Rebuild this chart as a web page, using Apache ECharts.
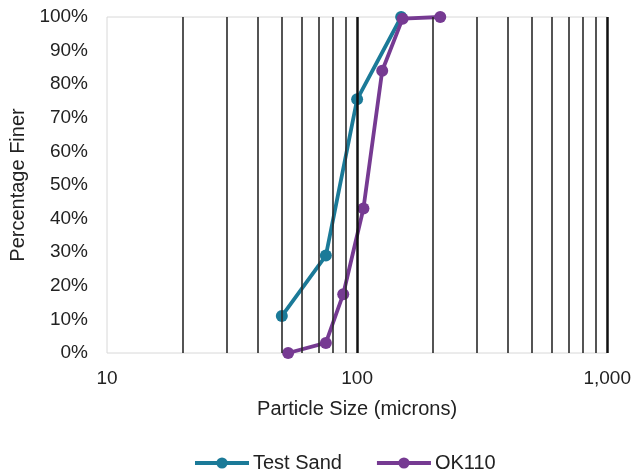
<!DOCTYPE html>
<html><head><meta charset="utf-8">
<script src="https://cdn.jsdelivr.net/npm/echarts@6/dist/echarts.min.js"></script>
<style>html,body{margin:0;padding:0;background:#fff}#c{width:634px;height:475px}</style>
</head><body><div id="c"></div>
<script>
// Data
const testSandSize = [50, 75, 100, 150];
const testSandFiner = [11, 29, 75.5, 100];
const ok110Size = [53, 75, 88, 106, 126, 152, 215];
const ok110Finer = [0, 3, 17.5, 43, 84, 99.5, 100];
const gridValues = [20, 30, 40, 50, 60, 70, 80, 90, 100, 200, 300, 400, 500, 600, 700, 800, 900, 1000];
const xTickLabels = {10: '10', 100: '100', 1000: '1,000'};

const font = 'Liberation Sans, Arial, sans-serif';
const chart = echarts.init(document.getElementById('c'));
chart.setOption({
  animation: false,
  backgroundColor: '#fff',
  grid: {left: 107, right: 26, top: 17, bottom: 122, show: true, borderColor: '#d8d8d8', borderWidth: 1},
  xAxis: {
    type: 'log', logBase: 10, min: 10, max: 1000,
    name: 'Particle Size (microns)', nameLocation: 'middle', nameGap: 46,
    nameTextStyle: {fontFamily: font, fontSize: 20, color: '#222'},
    axisLine: {show: false}, axisTick: {show: false}, splitLine: {show: false},
    axisLabel: {fontFamily: font, fontSize: 19, color: '#222', margin: 16,
      formatter: v => xTickLabels[Math.round(v)] || ''}
  },
  yAxis: {
    type: 'value', min: 0, max: 100, interval: 10,
    name: 'Percentage Finer', nameLocation: 'middle', nameGap: 77,
    nameTextStyle: {fontFamily: font, fontSize: 20, color: '#222'},
    axisLine: {show: false}, axisTick: {show: false}, splitLine: {show: false},
    axisLabel: {fontFamily: font, fontSize: 19, color: '#222', margin: 19, formatter: '{value}%'}
  },
  legend: {
    top: 448, left: 188, itemWidth: 54, itemHeight: 14, itemGap: 33,
    lineStyle: {width: 4},
    textStyle: {fontFamily: font, fontSize: 20, color: '#222', padding: [0, 0, 0, -1]},
    data: ['Test Sand', 'OK110']
  },
  series: [
    {
      name: 'grid', type: 'line', data: [], silent: true,
      markLine: {
        silent: true, symbol: 'none', label: {show: false},
        data: gridValues.map(v => ({xAxis: v, lineStyle: {color: (v === 100 || v === 1000) ? '#111' : '#2a2a2a', width: (v === 100 || v === 1000) ? 2.5 : 1.6, type: 'solid'}}))
      }
    },
    {
      name: 'Test Sand', type: 'line', data: testSandSize.map((s, i) => [s, testSandFiner[i]]),
      symbol: 'circle', symbolSize: 12,
      lineStyle: {color: '#1b7a98', width: 3.8}, itemStyle: {color: '#1b7a98'}
    },
    {
      name: 'OK110', type: 'line', data: ok110Size.map((s, i) => [s, ok110Finer[i]]),
      symbol: 'circle', symbolSize: 12,
      lineStyle: {color: '#763a92', width: 3.8}, itemStyle: {color: '#763a92'}
    }
  ]
});
</script></body></html>
